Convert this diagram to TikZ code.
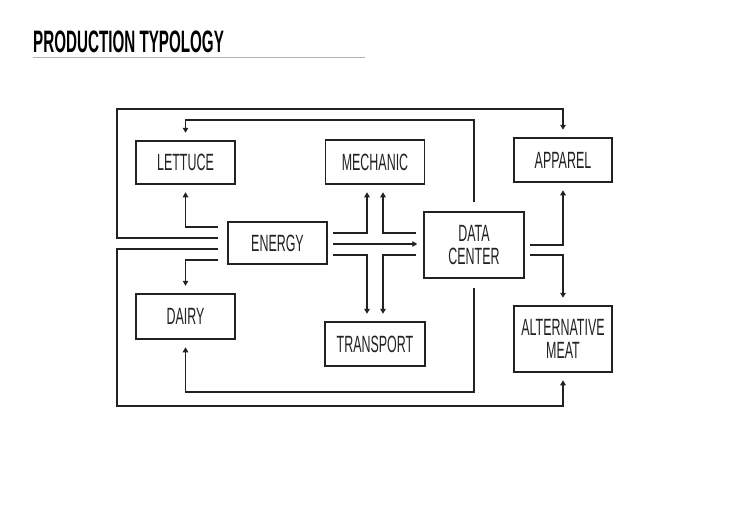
\documentclass[tikz,border=0pt]{standalone}
\usepackage{fontspec}
\setmainfont{Liberation Sans}
\newfontfamily\boxfont[FakeStretch=0.53]{Liberation Sans}
\newfontfamily\titlefont[FakeStretch=0.49]{Liberation Sans}
\usetikzlibrary{arrows.meta,calc}
\definecolor{ink}{HTML}{222222}
\tikzset{
  box/.style={draw=ink, line width=1.5pt, rectangle, inner sep=0pt, align=center,
    text=ink, font={\boxfont\fontsize{23.5}{22.5}\selectfont}},
  arr/.style={draw=ink, line width=1.3pt, -{Triangle[length=5pt,width=5.5pt]}, shorten >=7.5pt},
}
\begin{document}
\begin{tikzpicture}[x=1pt,y=-1pt]
\fill[white] (0,0) rectangle (730,516);
\useasboundingbox (0,0) rectangle (730,516);
% title
\node[anchor=base west, inner sep=0pt, font={\titlefont\bfseries\fontsize{31}{32}\selectfont}] (title) at (33,53) {PRODUCTION TYPOLOGY};
\draw[gray!60, line width=0.8pt] (33,57) -- (365,57);
% boxes
\node[box, minimum width=99pt, minimum height=43pt] (lettuce) at (185.5,162.5) {LETTUCE};
\node[box, minimum width=99pt, minimum height=44pt] (mechanic) at (375,162) {MECHANIC};
\node[box, minimum width=98pt, minimum height=44pt] (apparel) at (563,160) {APPAREL};
\node[box, minimum width=99pt, minimum height=42pt] (energy) at (277.5,243) {ENERGY};
\node[box, minimum width=100pt, minimum height=66pt] (datacenter) at (474,245) {DATA\\CENTER};
\node[box, minimum width=99pt, minimum height=45pt] (dairy) at (185.5,316.5) {DAIRY};
\node[box, minimum width=100pt, minimum height=44pt] (transport) at (375,344) {TRANSPORT};
\node[box, minimum width=98pt, minimum height=66pt] (altmeat) at (563,339) {ALTERNATIVE\\MEAT};
% energy west side
\draw[arr, shorten <=9pt] ($(energy.west)+(0,-16)$) -| (lettuce.south);
\draw[arr, shorten <=9pt] ($(energy.west)+(0,-5)$) -| (117,109) -| (apparel.north);
\draw[arr, shorten <=9pt] ($(energy.west)+(0,6)$) -| (117,406) -| (altmeat.south);
\draw[arr, shorten <=9pt] ($(energy.west)+(0,17)$) -| (dairy.north);
% energy east side
\draw[arr, shorten <=5pt] ($(energy.east)+(0,-10)$) -| ([xshift=-8pt]mechanic.south);
\draw[arr, shorten <=5pt, shorten >=6pt] ($(energy.east)+(0,1)$) -- ($(datacenter.west)+(0,-1)$);
\draw[arr, shorten <=5pt] ($(energy.east)+(0,12)$) -| ([xshift=-8pt]transport.north);
% data center
\draw[arr, shorten <=7pt] ($(datacenter.west)+(0,-12)$) -| ([xshift=8pt]mechanic.south);
\draw[arr, shorten <=7pt] ($(datacenter.west)+(0,10)$) -| ([xshift=8pt]transport.north);
\draw[arr, shorten <=9pt] (datacenter.north) |- (300,120) -| (lettuce.north);
\draw[arr, shorten <=9pt] (datacenter.south) |- (300,392) -| (dairy.south);
\draw[arr, shorten <=5pt] (datacenter.east) -| (apparel.south);
\draw[arr, shorten <=5pt] ($(datacenter.east)+(0,10)$) -| (altmeat.north);
\end{tikzpicture}
\end{document}
